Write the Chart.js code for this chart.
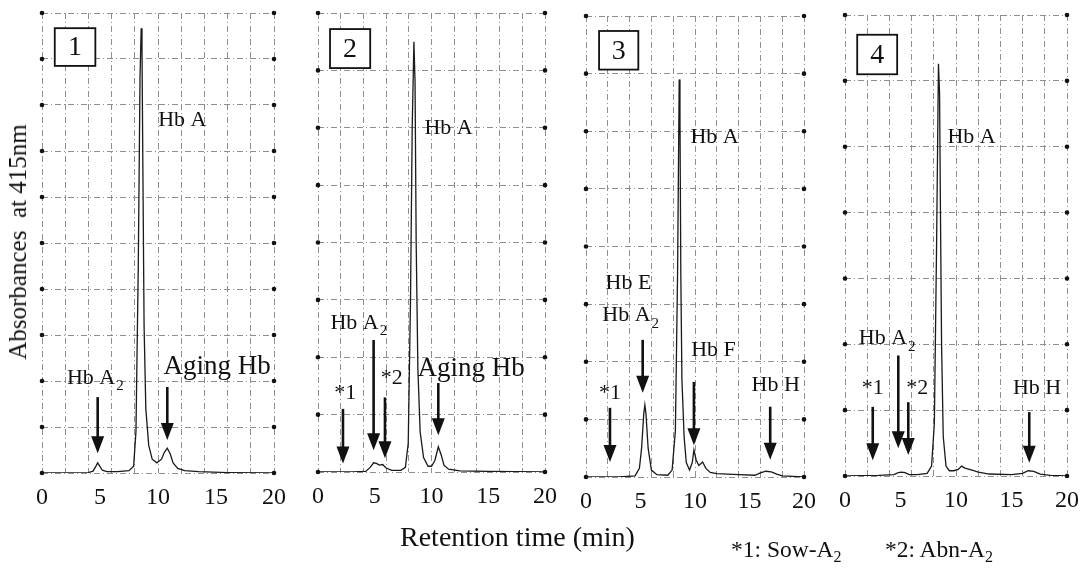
<!DOCTYPE html>
<html>
<head>
<meta charset="utf-8">
<script src="https://cdn.jsdelivr.net/npm/chart.js@4.4.1/dist/chart.umd.min.js"></script>
<style>
  body { margin: 0; background: #fff; }
  #wrap { position: relative; width: 1091px; height: 568px; overflow: hidden; font-family: "Liberation Serif", serif; color: #111; }
  #wrap canvas { position: absolute; left: 0; top: 0; }
  .ytitle { position: absolute; left: 18px; top: 242px; transform: translate(-50%, -50%) rotate(-90deg); font-size: 25px; white-space: pre; }
  .xtitle { position: absolute; left: 400px; top: 521px; font-size: 28px; white-space: nowrap; }
  .foot { position: absolute; top: 536px; font-size: 23.5px; white-space: nowrap; }
  .foot sub { font-size: 16px; vertical-align: -5px; }
</style>
</head>
<body>
<div id="wrap">
  <canvas id="panel1" width="1091" height="568"></canvas>
  <canvas id="panel2" width="1091" height="568"></canvas>
  <canvas id="panel3" width="1091" height="568"></canvas>
  <canvas id="panel4" width="1091" height="568"></canvas>
  <div class="ytitle">Absorbances  at 415nm</div>
  <div class="xtitle">Retention time (min)</div>
  <div class="foot" style="left:731px">*1: Sow-A<sub>2</sub></div>
  <div class="foot" style="left:885px">*2: Abn-A<sub>2</sub></div>
</div>
<script>
// x ticks that carry a label
const xLabelTicks = [0, 5, 10, 15, 20];

// chromatogram 1
const p1Time = [0, 2, 4, 4.4, 4.65, 4.8, 4.95, 5.2, 5.6, 6.5, 7.5, 7.9, 8.1, 8.3, 8.45, 8.55, 8.62, 8.7, 8.8, 8.95, 9.2, 9.5, 9.9, 10.3, 10.55, 10.8, 11.05, 11.3, 11.7, 12.3, 13.5, 16, 20];
const p1Abs  = [0, 0, 0.01, 0.04, 0.15, 0.22, 0.16, 0.06, 0.03, 0.03, 0.05, 0.15, 0.9, 4.5, 8.6, 9.67, 9.2, 6.5, 3.2, 1.4, 0.6, 0.3, 0.22, 0.3, 0.45, 0.54, 0.42, 0.22, 0.1, 0.05, 0.03, 0.01, 0];

// chromatogram 2
const p2Time = [0, 3, 4.2, 4.6, 4.9, 5.15, 5.4, 5.7, 6.0, 6.5, 7.3, 7.7, 7.95, 8.15, 8.3, 8.45, 8.55, 8.65, 8.8, 9.0, 9.3, 9.7, 10.0, 10.3, 10.6, 10.85, 11.1, 11.5, 12.5, 15, 20];
const p2Abs  = [0, 0, 0.01, 0.08, 0.16, 0.15, 0.12, 0.13, 0.07, 0.03, 0.03, 0.08, 0.5, 3.0, 6.0, 7.5, 6.8, 4.0, 1.8, 0.7, 0.25, 0.1, 0.1, 0.2, 0.44, 0.3, 0.12, 0.05, 0.02, 0.01, 0];

// chromatogram 3
const p3Time = [0, 3, 4.5, 4.9, 5.1, 5.3, 5.4, 5.5, 5.7, 6.0, 6.5, 7.5, 7.9, 8.2, 8.4, 8.55, 8.62, 8.7, 8.8, 8.9, 9.0, 9.2, 9.5, 9.75, 9.9, 10.1, 10.35, 10.7, 11.0, 11.4, 12, 14, 15.5, 16.0, 16.5, 17.0, 17.5, 18, 20];
const p3Abs  = [0, 0, 0.02, 0.15, 0.5, 1.1, 1.25, 1.1, 0.5, 0.12, 0.04, 0.03, 0.12, 0.8, 3.5, 6.9, 6.3, 3.5, 1.7, 1.2, 0.7, 0.25, 0.12, 0.25, 0.47, 0.3, 0.2, 0.26, 0.15, 0.08, 0.06, 0.04, 0.03, 0.07, 0.1, 0.09, 0.05, 0.02, 0];

// chromatogram 4
const p4Time = [0, 3, 4.4, 4.8, 5.1, 5.4, 5.8, 6.5, 7.4, 7.8, 8.05, 8.25, 8.42, 8.52, 8.6, 8.7, 8.85, 9.1, 9.4, 9.8, 10.2, 10.5, 10.8, 11.2, 11.6, 12.0, 13, 15, 16, 16.5, 17.0, 17.6, 18.5, 20];
const p4Abs  = [0, 0.01, 0.02, 0.05, 0.06, 0.05, 0.02, 0.02, 0.04, 0.15, 0.8, 3.5, 6.26, 5.8, 4.0, 2.0, 0.6, 0.15, 0.08, 0.08, 0.1, 0.15, 0.12, 0.1, 0.08, 0.06, 0.03, 0.02, 0.04, 0.08, 0.07, 0.03, 0.01, 0];

const FONT = '"Liberation Serif", "Times New Roman", serif';
const GRID = '#8f8f8f';
const GRID_DASH = [6, 3, 1, 3];
const XAXIS_H = 40;

function drawLabel(ctx, text, sub, cx, cy, size) {
  ctx.font = size + 'px ' + FONT;
  const w1 = ctx.measureText(text).width;
  let w2 = 0;
  if (sub) {
    ctx.font = Math.round(size * 0.68) + 'px ' + FONT;
    w2 = ctx.measureText(sub).width + 1;
  }
  const sx = cx - (w1 + w2) / 2;
  ctx.textAlign = 'left';
  ctx.textBaseline = 'middle';
  ctx.font = size + 'px ' + FONT;
  ctx.fillText(text, sx, cy);
  if (sub) {
    ctx.font = Math.round(size * 0.68) + 'px ' + FONT;
    ctx.fillText(sub, sx + w1 + 1, cy + size * 0.38);
  }
}

function drawArrow(ctx, px, top, tip) {
  ctx.lineWidth = 2.6;
  ctx.beginPath();
  ctx.moveTo(px, top);
  ctx.lineTo(px, tip - 12);
  ctx.stroke();
  ctx.beginPath();
  ctx.moveTo(px - 6.5, tip - 17);
  ctx.lineTo(px + 6.5, tip - 17);
  ctx.lineTo(px, tip);
  ctx.closePath();
  ctx.fill();
}

const notesPlugin = {
  id: 'notes',
  afterDatasetsDraw(chart, args, opts) {
    const { ctx, scales: { x, y } } = chart;
    ctx.save();
    ctx.fillStyle = '#111';
    ctx.strokeStyle = '#111';
    // little dots where grid rows meet the side lines
    for (let v = 0; v <= y.max; v++) {
      [0, 20].forEach(t => {
        ctx.beginPath();
        ctx.arc(x.getPixelForValue(t), y.getPixelForValue(v), 2.3, 0, Math.PI * 2);
        ctx.fill();
      });
    }
    // numbered box
    const b = opts.box;
    const bx1 = x.getPixelForValue(b.x1), bx2 = x.getPixelForValue(b.x2);
    const by1 = y.getPixelForValue(b.y1), by2 = y.getPixelForValue(b.y2);
    ctx.fillStyle = '#fff';
    ctx.fillRect(bx1, by1, bx2 - bx1, by2 - by1);
    ctx.fillStyle = '#111';
    ctx.lineWidth = 1.8;
    ctx.strokeRect(bx1, by1, bx2 - bx1, by2 - by1);
    drawLabel(ctx, b.text, null, (bx1 + bx2) / 2, (by1 + by2) / 2 + 1, 28);
    // peak names
    opts.labels.forEach(l => {
      drawLabel(ctx, l.text, l.sub, x.getPixelForValue(l.x), y.getPixelForValue(l.y), l.size || 22);
    });
    // arrows
    opts.arrows.forEach(a => {
      drawArrow(ctx, x.getPixelForValue(a.x), y.getPixelForValue(a.y1), y.getPixelForValue(a.y2));
    });
    ctx.restore();
  }
};

function makePanel(id, times, abs, yMax, area, notes) {
  const ctx = document.getElementById(id).getContext('2d');
  return new Chart(ctx, {
    type: 'line',
    data: {
      datasets: [{
        data: times.map((t, i) => ({ x: t, y: abs[i] })),
        borderColor: '#1a1a1a',
        borderWidth: 1.3,
        pointRadius: 0,
        tension: 0,
        fill: false
      }]
    },
    options: {
      responsive: false,
      animation: false,
      events: [],
      layout: {
        padding: { left: area.left, right: 1091 - area.right, top: area.top, bottom: 568 - area.bottom - XAXIS_H }
      },
      plugins: {
        legend: { display: false },
        tooltip: { enabled: false },
        notes: notes
      },
      scales: {
        x: {
          type: 'linear',
          min: 0,
          max: 20,
          afterFit(scale) { scale.height = XAXIS_H; },
          border: { display: false, dash: GRID_DASH },
          grid: {
            drawTicks: false,
            color: c => (c.tick.value % 2 === 0 ? GRID : 'rgba(0,0,0,0)')
          },
          ticks: {
            stepSize: 1,
            autoSkip: false,
            maxRotation: 0,
            padding: 10,
            color: '#111',
            font: { family: FONT, size: 24 },
            callback: v => (xLabelTicks.includes(v) ? String(v) : '')
          }
        },
        y: {
          min: 0,
          max: yMax,
          afterFit(scale) { scale.width = 0; },
          border: { display: false, dash: GRID_DASH },
          grid: { drawTicks: false, color: GRID },
          ticks: { stepSize: 1, display: false }
        }
      }
    },
    plugins: [notesPlugin]
  });
}

makePanel('panel1', p1Time, p1Abs, 10, { left: 42, right: 274, top: 13, bottom: 473 }, {
  box: { x1: 1.1, x2: 4.6, y1: 9.67, y2: 8.85, text: '1' },
  labels: [
    { x: 12.1, y: 7.67, text: 'Hb A' },
    { x: 4.6, y: 2.07, text: 'Hb A', sub: '2' },
    { x: 15.1, y: 2.3, text: 'Aging Hb', size: 27 }
  ],
  arrows: [
    { x: 4.8, y1: 1.65, y2: 0.43 },
    { x: 10.8, y1: 1.87, y2: 0.72 }
  ]
});

makePanel('panel2', p2Time, p2Abs, 8, { left: 318, right: 545, top: 13, bottom: 472 }, {
  box: { x1: 1.06, x2: 4.6, y1: 7.72, y2: 7.04, text: '2' },
  labels: [
    { x: 11.5, y: 6.0, text: 'Hb A' },
    { x: 3.6, y: 2.6, text: 'Hb A', sub: '2' },
    { x: 6.5, y: 1.63, text: '*2' },
    { x: 2.4, y: 1.37, text: '*1' },
    { x: 13.5, y: 1.8, text: 'Aging Hb', size: 27 }
  ],
  arrows: [
    { x: 4.9, y1: 2.3, y2: 0.38 },
    { x: 5.9, y1: 1.3, y2: 0.24 },
    { x: 2.2, y1: 1.1, y2: 0.15 },
    { x: 10.6, y1: 1.55, y2: 0.64 }
  ]
});

makePanel('panel3', p3Time, p3Abs, 8, { left: 586, right: 804, top: 16, bottom: 477 }, {
  box: { x1: 1.2, x2: 4.8, y1: 7.74, y2: 7.07, text: '3' },
  labels: [
    { x: 11.8, y: 5.9, text: 'Hb A' },
    { x: 3.9, y: 3.37, text: 'Hb E' },
    { x: 4.1, y: 2.8, text: 'Hb A', sub: '2' },
    { x: 11.7, y: 2.2, text: 'Hb F' },
    { x: 2.2, y: 1.46, text: '*1' },
    { x: 17.4, y: 1.6, text: 'Hb H' }
  ],
  arrows: [
    { x: 5.2, y1: 2.38, y2: 1.46 },
    { x: 9.9, y1: 1.65, y2: 0.55 },
    { x: 2.2, y1: 1.2, y2: 0.26 },
    { x: 16.9, y1: 1.22, y2: 0.3 }
  ]
});

makePanel('panel4', p4Time, p4Abs, 7, { left: 845, right: 1067, top: 15, bottom: 476 }, {
  box: { x1: 1.1, x2: 4.7, y1: 6.7, y2: 6.1, text: '4' },
  labels: [
    { x: 11.4, y: 5.14, text: 'Hb A' },
    { x: 3.8, y: 2.09, text: 'Hb A', sub: '2' },
    { x: 2.5, y: 1.33, text: '*1' },
    { x: 6.5, y: 1.33, text: '*2' },
    { x: 17.3, y: 1.33, text: 'Hb H' }
  ],
  arrows: [
    { x: 4.8, y1: 1.83, y2: 0.42 },
    { x: 2.5, y1: 1.05, y2: 0.24 },
    { x: 5.7, y1: 1.12, y2: 0.32 },
    { x: 16.6, y1: 0.97, y2: 0.2 }
  ]
});
</script>
</body>
</html>
